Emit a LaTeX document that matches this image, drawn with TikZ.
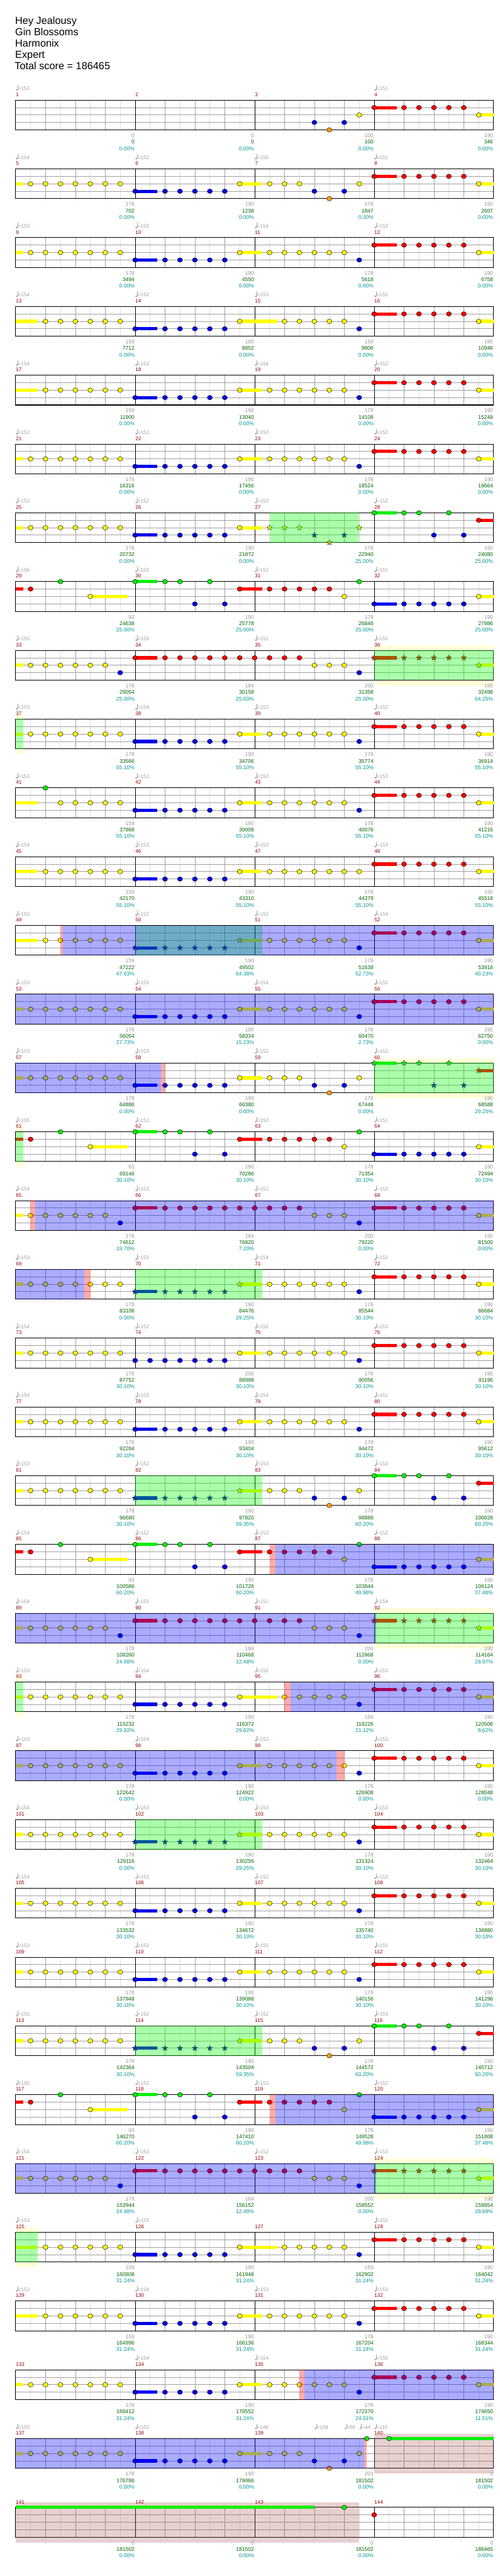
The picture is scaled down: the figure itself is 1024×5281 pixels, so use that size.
\documentclass[tikz,border=0pt]{standalone}
\usepackage{fontspec}
\setmainfont{Liberation Sans}
\usetikzlibrary{shapes.geometric}

\definecolor{cG}{RGB}{0,240,0}
\definecolor{cR}{RGB}{255,0,0}
\definecolor{cY}{RGB}{255,255,0}
\definecolor{cB}{RGB}{0,0,235}
\definecolor{cO}{RGB}{255,160,0}
\definecolor{cLight}{RGB}{225,225,225}
\definecolor{cMid}{RGB}{160,160,160}
\definecolor{cTempo}{RGB}{160,160,160}
\definecolor{cGray}{RGB}{150,150,150}
\definecolor{cScore}{RGB}{0,100,0}
\definecolor{cPct}{RGB}{0,150,150}
\definecolor{cNum}{RGB}{150,0,0}
\definecolor{cBand}{RGB}{255,255,215}
\definecolor{cBre}{RGB}{160,70,70}

\tikzset{
  lbl/.style={font=\fontsize{11}{13}\selectfont, anchor=base east, inner sep=0pt},
  lblsm/.style={font=\fontsize{10.5}{12}\selectfont, anchor=base west, inner sep=0pt},
  titlesty/.style={font=\fontsize{21}{25}\selectfont, anchor=base west, inner sep=0pt},
  starsty/.style={star, star points=5, star point ratio=2.3, minimum size=12pt, inner sep=0pt, draw=black!85, line width=0.5pt},
  notesty/.style={line width=0.6pt, draw=black}
}

\newcounter{sc}
\newcommand\PX[1]{32+30.625*(#1)}
\newcommand\PY[1]{\RT+15.25*(#1)}
\newcommand\PYo[2]{\RT+15.25*(#1)+(#2)}

\newcommand\note[3]{\draw[notesty, fill=#1] ({\PX{#3}},{\PY{#2}}) ellipse [x radius=5.2, y radius=4.6];}
\newcommand\nG[1]{\note{cG}{0}{#1}}
\newcommand\nR[1]{\note{cR}{1}{#1}}
\newcommand\nY[1]{\note{cY}{2}{#1}}
\newcommand\nB[1]{\note{cB}{3}{#1}}
\newcommand\nO[1]{\note{cO}{4}{#1}}
\newcommand\st[3]{\stepcounter{sc}\node[starsty, fill=#1] (star\arabic{sc}) at ({\PX{#3}},{\PY{#2}}) {};}
\newcommand\sG[1]{\st{cG}{0}{#1}}
\newcommand\sR[1]{\st{cR}{1}{#1}}
\newcommand\sY[1]{\st{cY}{2}{#1}}
\newcommand\sB[1]{\st{cB}{3}{#1}}
\newcommand\sO[1]{\st{cO}{4}{#1}}
\newcommand\sus[4]{\fill[#1] ({\PX{#3}},{\PYo{#2}{-3.3}}) rectangle ({\PX{#4}},{\PYo{#2}{3.3}});}
\newcommand\ov[3]{\fill[#1, fill opacity=0.33] ({\PX{#2}},{\PY{0}}) rectangle ({\PX{#3}},{\PY{4}});}
\newcommand\band[2]{\fill[cBand] ({\PX{#1}},{\PYo{0}{-10}}) rectangle ({\PX{#2}},{\PYo{0}{71.7}});}
\newcommand\bre[2]{\fill[cBre, fill opacity=0.25] ({\PX{#1}},{\PYo{0}{-10}}) rectangle ({\PX{#2}},{\PYo{0}{71.7}});}

% note groups
\newcommand\Ya{\sus{cY}{2}{0}{0.5}\foreach\p in {1,...,7}{\nY{\p}}}
\newcommand\Yb{\sus{cY}{2}{0}{1.5}\foreach\p in {2,...,7}{\nY{\p}}}
\newcommand\Bm{\sus{cB}{3}{8}{9.5}\nB{8}\foreach\p in {10,...,14}{\nB{\p}}}
\newcommand\Bsev{\foreach\p in {8,...,14}{\nB{\p}}}
\newcommand\Ys{\sus{cY}{2}{15}{16.5}\nY{15}}
\newcommand\tA{\nY{17}\nY{18}\nY{19}\nB{20}\nO{21}\nB{22}\nY{23}}
\newcommand\tB{\foreach\p in {17,...,22}{\nY{\p}}\nB{23}}
\newcommand\tL{\sus{cY}{2}{15}{17.5}\nY{15}\foreach\p in {18,...,22}{\nY{\p}}\nB{23}}
\newcommand\Rm{\sus{cR}{1}{24}{25.5}\nR{24}\foreach\p in {26,...,30}{\nR{\p}}\sus{cY}{2}{31}{32}\nY{31}}
\newcommand\Bd{\sus{cB}{3}{24}{25.5}\nB{24}\foreach\p in {26,...,30}{\nB{\p}}\sus{cY}{2}{31}{32}\nY{31}}
\newcommand\Gm{\sus{cG}{0}{24}{25.5}\nG{24}\nG{26}\nG{27}\nB{28}\nG{29}\nB{30}\sus{cR}{1}{31}{32}\nR{31}}
\newcommand\Cp{\sus{cY}{2}{0}{0.5}\foreach\p in {1,...,6}{\nY{\p}}\nB{7}\sus{cR}{1}{8}{9.5}\nR{8}\foreach\p in {10,...,19}{\nR{\p}}\nY{20}\nY{21}\nY{22}\nB{23}}
\newcommand\Dp{\sus{cR}{1}{0}{0.5}\nR{1}\nG{3}\sus{cY}{2}{5}{7.5}\nY{5}\sus{cG}{0}{8}{9.5}\nG{8}\nG{10}\nG{11}\nB{12}\nG{13}\nB{14}\sus{cR}{1}{15}{16.5}\nR{15}\foreach\p in {17,...,21}{\nR{\p}}\nY{22}\nG{23}}
\newcommand\SBm{\sus{cB}{3}{8}{9.5}\sB{8}\foreach\p in {10,...,14}{\sB{\p}}\sus{cY}{2}{15}{16.5}\sY{15}}
\newcommand\SA{\sY{17}\sY{18}\sY{19}\sB{20}\sO{21}\sB{22}\sY{23}}
\newcommand\SRm{\sus{cR}{1}{24}{25.5}\sR{24}\foreach\p in {26,...,30}{\sR{\p}}\sus{cY}{2}{31}{32}\sY{31}}
\newcommand\SGm{\sus{cG}{0}{24}{25.5}\sG{24}\sG{26}\sG{27}\sB{28}\sG{29}\sB{30}\sus{cR}{1}{31}{32}\sR{31}}

% grid of one row
\newcommand\grid{%
  \fill[white] ({\PX{0}},{\PY{0}}) rectangle ({\PX{32}},{\PY{4}});
  \foreach \p in {1,3,...,31}{\draw[cLight, line width=0.8pt] ({\PX{\p}},{\PY{0}}) -- ({\PX{\p}},{\PY{4}});}
  \foreach \p in {2,4,6,10,12,14,18,20,22,26,28,30}{\draw[cMid, line width=0.8pt] ({\PX{\p}},{\PY{0}}) -- ({\PX{\p}},{\PY{4}});}
  \foreach \l in {1,2,3}{\draw[cMid, line width=1.1pt] ({\PX{0}},{\PY{\l}}) -- ({\PX{32}},{\PY{\l}});}
  \foreach \p in {8,16,24}{\draw[black, line width=0.8pt] ({\PX{\p}},{\PY{0}}) -- ({\PX{\p}},{\PY{4}});}
  \draw[black, line width=1.3pt] ({\PX{0}},{\PY{0}}) rectangle ({\PX{32}},{\PY{4}});
  \foreach \k in {0,1,2,3}{\pgfmathtruncatemacro\mm{4*(\rr-1)+\k+1}%
    \node[lblsm, text=cNum] (m\mm) at ({\PX{8*\k}+0.5},{\PYo{0}{-7.6}}) {\mm};}
}
\newcommand\tempo[3]{%
  \fill[cTempo] ({\PX{#1}+2.4},{\PYo{0}{-21}}) ellipse [x radius=2.3, y radius=1.7];
  \draw[cTempo, line width=0.7pt] ({\PX{#1}+4.4},{\PYo{0}{-21}}) -- ({\PX{#1}+4.4},{\PYo{0}{-31}});
  \node[lblsm, text=cTempo] (t\rr#3) at ({\PX{#1}+5},{\PYo{0}{-20}}) {=#2};}
\newcommand\tmp[3]{\if\relax\detokenize{#2}\relax\else\tempo{#1}{#2}{#3}\fi}
\newcommand\Tp[4]{\tmp{0}{#1}{a}\tmp{8}{#2}{b}\tmp{16}{#3}{c}\tmp{24}{#4}{d}}
\newcommand\botrow[7]{%
  \node[lbl,text=#3] (#1\rr a) at ({\PX{8}-1},{\PYo{0}{#2}}) {#4};
  \node[lbl,text=#3] (#1\rr b) at ({\PX{16}-1},{\PYo{0}{#2}}) {#5};
  \node[lbl,text=#3] (#1\rr c) at ({\PX{24}-1},{\PYo{0}{#2}}) {#6};
  \node[lbl,text=#3] (#1\rr d) at ({\PX{32}-1},{\PYo{0}{#2}}) {#7};}
\newcommand\Gr[4]{\botrow{g}{76.4}{cGray}{#1}{#2}{#3}{#4}}
\newcommand\Sc[4]{\botrow{s}{89.7}{cScore}{#1}{#2}{#3}{#4}}
\newcommand\Pc[4]{\botrow{q}{103}{cPct}{#1\%}{#2\%}{#3\%}{#4\%}}
\newcommand\Pz{\Pc{0.00}{0.00}{0.00}{0.00}}
\newcommand\Row[4]{\begin{scope}\pgfmathsetmacro\RT{205.3+141*(#1-1)}\pgfmathtruncatemacro\rr{#1}#2\grid#3#4\end{scope}}

\begin{document}
\begin{tikzpicture}[x=1pt,y=-1pt]
\useasboundingbox (0,0) rectangle (1024,5281);
\fill[white] (0,0) rectangle (1024,5281);

\node[titlesty] (title1) at (31,50) {Hey Jealousy};
\node[titlesty] (title2) at (31,73) {Gin Blossoms};
\node[titlesty] (title3) at (31,96) {Harmonix};
\node[titlesty] (title4) at (31,119) {Expert};
\node[titlesty] (title5) at (30,142) {Total score = 186465};

\Row{1}{}{\nB{20}\nO{21}\nB{22}\nY{23}\Rm}{\Tp{153}{}{}{151}\Gr{0}{0}{100}{190}\Sc{0}{0}{100}{346}\Pz}
\Row{2}{}{\Ya\Bm\Ys\tA\Rm}{\Tp{154}{152}{155}{151}\Gr{178}{190}{178}{190}\Sc{702}{1238}{1847}{2607}\Pz}
\Row{3}{}{\Ya\Bm\Ys\tB\Rm}{\Tp{153}{153}{154}{152}\Gr{178}{190}{178}{190}\Sc{3494}{4550}{5618}{6758}\Pz}
\Row{4}{}{\Yb\Bm\tL\Rm}{\Tp{154}{152}{153}{152}\Gr{159}{190}{159}{190}\Sc{7712}{8852}{9806}{10946}\Pz}
\Row{5}{}{\Yb\Bm\Ys\tB\Rm}{\Tp{154}{153}{154}{152}\Gr{159}{190}{178}{190}\Sc{11900}{13040}{14108}{15248}\Pz}
\Row{6}{}{\Ya\Bm\Ys\tB\Rm}{\Tp{152}{153}{153}{152}\Gr{178}{190}{178}{190}\Sc{16316}{17456}{18524}{19664}\Pz}
\Row{7}{}{\Ya\Bm\Ys\SA\Gm}{\ov{green}{17}{23}\Tp{153}{152}{153}{152}\Gr{178}{190}{178}{190}\Sc{20732}{21872}{22940}{24080}\Pc{0.00}{0.00}{25.00}{25.00}}
\Row{8}{}{\Dp\Bd}{\Tp{156}{153}{152}{151}\Gr{93}{190}{178}{190}\Sc{24638}{25778}{26846}{27986}\Pc{25.00}{25.00}{25.00}{25.00}}
\Row{9}{\band{24}{32}}{\Cp\SRm}{\ov{green}{24}{32}\Tp{155}{153}{151}{152}\Gr{178}{184}{200}{190}\Sc{29054}{30158}{31358}{32498}\Pc{25.00}{25.00}{25.00}{54.25}}
\Row{10}{\band{0}{0.5}}{\Ya\Bm\Ys\tB\Rm}{\ov{green}{0}{0.5}\Tp{153}{154}{153}{152}\Gr{178}{190}{178}{190}\Sc{33566}{34706}{35774}{36914}\Pc{55.10}{55.10}{55.10}{55.10}}
\Row{11}{}{\sus{cY}{2}{0}{1.5}\nG{2}\foreach\p in {3,...,7}{\nY{\p}}\Bm\Ys\tB\Rm}{\Tp{153}{153}{153}{153}\Gr{159}{190}{178}{190}\Sc{37868}{39008}{40076}{41216}\Pc{55.10}{55.10}{55.10}{55.10}}
\Row{12}{}{\Yb\Bm\Ys\foreach\p in {17,...,23}{\nY{\p}}\Rm}{\Tp{154}{153}{153}{153}\Gr{159}{190}{178}{190}\Sc{42170}{43310}{44378}{45518}\Pc{55.10}{55.10}{55.10}{55.10}}
\Row{13}{}{\Yb\SBm\tB\Rm}{\ov{green}{8}{16.5}\ov{blue}{3.16}{32}\ov{red}{2.98}{3.16}\Tp{153}{152}{152}{154}\Gr{159}{190}{178}{190}\Sc{47222}{49502}{51638}{53918}\Pc{47.63}{64.38}{52.73}{40.23}}
\Row{14}{}{\Ya\Bm\Ys\tB\Rm}{\ov{blue}{0}{32}\Tp{153}{153}{154}{152}\Gr{178}{190}{178}{190}\Sc{56054}{58334}{60470}{62750}\Pc{27.73}{15.23}{2.73}{0.00}}
\Row{15}{\band{24}{32}}{\Ya\Bm\Ys\tA\SGm}{\ov{blue}{0}{9.73}\ov{red}{9.73}{10}\ov{green}{24}{32}\Tp{153}{153}{152}{153}\Gr{178}{190}{178}{190}\Sc{64886}{66380}{67448}{68588}\Pc{0.00}{0.00}{0.00}{29.25}}
\Row{16}{\band{0}{0.5}}{\Dp\Bd}{\ov{green}{0}{0.5}\Tp{155}{153}{153}{151}\Gr{93}{190}{178}{190}\Sc{69146}{70286}{71354}{72494}\Pc{30.10}{30.10}{30.10}{30.10}}
\Row{17}{}{\Cp\Rm}{\ov{red}{0.98}{1.31}\ov{blue}{1.31}{32}\Tp{154}{153}{151}{153}\Gr{178}{184}{200}{190}\Sc{74612}{76820}{79220}{81500}\Pc{19.70}{7.20}{0.00}{0.00}}
\Row{18}{}{\Ya\SBm\tB\Rm}{\ov{blue}{0}{4.59}\ov{red}{4.59}{5}\ov{green}{8}{16.5}\Tp{153}{153}{154}{152}\Gr{178}{190}{178}{190}\Sc{83336}{84476}{85544}{86684}\Pc{0.00}{29.25}{30.10}{30.10}}
\Row{19}{}{\Ya\Bsev\Ys\tB\Rm}{\Tp{154}{152}{152}{153}\Gr{178}{206}{178}{190}\Sc{87752}{88988}{90056}{91196}\Pc{30.10}{30.10}{30.10}{30.10}}
\Row{20}{}{\Ya\Bm\Ys\tB\Rm}{\Tp{154}{153}{154}{151}\Gr{178}{190}{178}{190}\Sc{92264}{93404}{94472}{95612}\Pc{30.10}{30.10}{30.10}{30.10}}
\Row{21}{}{\Ya\SBm\tA\Gm}{\ov{green}{8}{16.5}\Tp{153}{152}{153}{153}\Gr{178}{190}{178}{190}\Sc{96680}{97820}{98888}{100028}\Pc{30.10}{59.35}{60.20}{60.20}}
\Row{22}{}{\Dp\Bd}{\ov{red}{17}{17.41}\ov{blue}{17.41}{32}\Tp{154}{152}{153}{152}\Gr{93}{190}{178}{190}\Sc{100586}{101726}{103844}{106124}\Pc{60.20}{60.20}{49.98}{37.48}}
\Row{23}{\band{24}{32}}{\Cp\SRm}{\ov{green}{24}{32}\ov{blue}{0}{24.15}\Tp{154}{153}{151}{154}\Gr{178}{184}{200}{190}\Sc{108260}{110468}{112868}{114164}\Pc{24.98}{12.48}{0.00}{28.97}}
\Row{24}{\band{0}{0.5}}{\Ya\Bm\tL\Rm}{\ov{green}{0}{0.5}\ov{red}{18}{18.39}\ov{blue}{18.39}{32}\Tp{153}{154}{152}{153}\Gr{178}{190}{159}{190}\Sc{115232}{116372}{118226}{120506}\Pc{29.82}{29.82}{21.12}{8.62}}
\Row{25}{}{\Ya\Bm\Ys\tB\Rm}{\ov{blue}{0}{21.49}\ov{red}{21.49}{22}\Tp{153}{154}{153}{153}\Gr{178}{190}{178}{190}\Sc{122642}{124922}{126908}{128048}\Pz}
\Row{26}{}{\Ya\SBm\tB\Rm}{\ov{green}{8}{16.5}\Tp{154}{153}{153}{153}\Gr{178}{190}{178}{190}\Sc{129116}{130256}{131324}{132464}\Pc{0.00}{29.25}{30.10}{30.10}}
\Row{27}{}{\Ya\Bm\Ys\tB\Rm}{\Tp{154}{153}{152}{153}\Gr{178}{190}{178}{190}\Sc{133532}{134672}{135740}{136880}\Pc{30.10}{30.10}{30.10}{30.10}}
\Row{28}{}{\Ya\Bm\Ys\tB\Rm}{\Tp{153}{153}{155}{151}\Gr{178}{190}{178}{190}\Sc{137948}{139088}{140156}{141296}\Pc{30.10}{30.10}{30.10}{30.10}}
\Row{29}{}{\Ya\SBm\tA\Gm}{\ov{green}{8}{16.5}\Tp{153}{152}{152}{153}\Gr{178}{190}{178}{190}\Sc{142364}{143504}{144572}{145712}\Pc{30.10}{59.35}{60.20}{60.20}}
\Row{30}{}{\Dp\Bd}{\ov{red}{17}{17.41}\ov{blue}{17.41}{32}\Tp{155}{152}{153}{152}\Gr{93}{190}{178}{190}\Sc{146270}{147410}{149528}{151808}\Pc{60.20}{60.20}{49.98}{37.48}}
\Row{31}{\band{24}{32}}{\Cp\SRm}{\ov{green}{24}{32}\ov{blue}{0}{24.15}\Tp{154}{153}{152}{153}\Gr{178}{184}{200}{190}\Sc{153944}{156152}{158552}{159854}\Pc{24.98}{12.48}{0.00}{28.69}}
\Row{32}{\band{0}{1.5}}{\Yb\Bm\tL\Rm}{\ov{green}{0}{1.5}\Tp{153}{153}{}{152}\Gr{159}{190}{159}{190}\Sc{160808}{161948}{162902}{164042}\Pc{31.24}{31.24}{31.24}{31.24}}
\Row{33}{}{\Yb\Bm\Ys\tB\Rm}{\Tp{153}{154}{153}{153}\Gr{159}{190}{178}{190}\Sc{164996}{166136}{167204}{168344}\Pc{31.24}{31.24}{31.24}{31.24}}
\Row{34}{}{\Ya\Bm\Ys\tB\Rm}{\ov{red}{19}{19.35}\ov{blue}{19.35}{32}\Tp{}{154}{154}{150}\Gr{178}{190}{178}{190}\Sc{169412}{170552}{172370}{174650}\Pc{31.24}{31.24}{24.01}{11.51}}
\Row{35}{}{\bre{24}{32}\Ya\Bm\Ys\tA\nG{23.5}\sus{cG}{0}{25}{32}\nG{25}}{\ov{blue}{0}{23.35}\ov{red}{23.35}{23.5}\Tp{153}{152}{148}{110}\tempo{20}{104}{e}\tempo{22}{66}{f}\tempo{23}{44}{g}\Gr{178}{190}{203}{0}\Sc{176786}{179066}{181502}{181502}\Pz}
\Row{36}{}{\bre{0}{23}\sus{cG}{0}{0}{20}\nG{22}\nR{24}}{\Gr{0}{0}{0}{0}\Sc{181502}{181502}{181502}{186465}\Pz}
\end{tikzpicture}
\end{document}
